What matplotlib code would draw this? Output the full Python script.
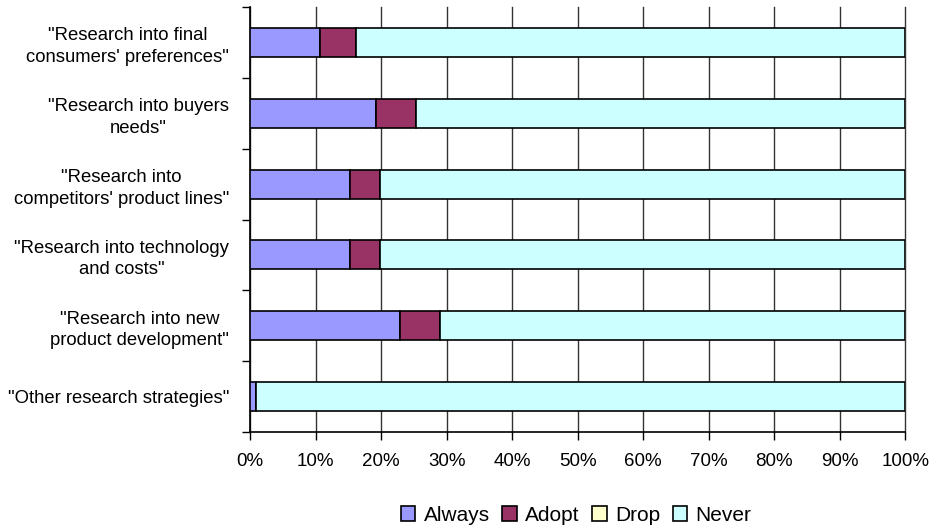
import matplotlib
matplotlib.use("Agg")
import matplotlib.pyplot as plt
import numpy as np
from matplotlib.ticker import FixedLocator, PercentFormatter

plt.rcParams['font.family'] = ['Liberation Sans', 'DejaVu Sans']

categories = [
    '"Research into final\nconsumers\' preferences"',
    '"Research into buyers\nneeds"',
    '"Research into\ncompetitors\' product lines"',
    '"Research into technology\nand costs"',
    '"Research into new\nproduct development"',
    '"Other research strategies"',
]
always = [10.6, 19.2, 15.2, 15.2, 22.9, 0.9]
adopt = [5.6, 6.1, 4.6, 4.6, 6.1, 0.0]
drop = [0.0, 0.0, 0.0, 0.0, 0.0, 0.0]
never = [100 - a - b - c for a, b, c in zip(always, adopt, drop)]

series = [("Always", always, "#9999FF"),
          ("Adopt", adopt, "#993366"),
          ("Drop", drop, "#FFFFCC"),
          ("Never", never, "#CCFFFF")]

fig = plt.figure(figsize=(9.32, 5.31), dpi=100)
ax = fig.add_axes([0.2683, 0.1864, 0.7031, 0.8004])

y = np.arange(len(categories))
left = np.zeros(len(categories))
handles = []
for name, vals, col in series:
    h = ax.barh(y, vals, left=left, height=0.41, color=col, edgecolor='black',
                linewidth=1.2, label=name, zorder=3)
    handles.append(h)
    left = left + np.array(vals)

ax.set_xlim(0, 100)
ax.set_ylim(len(categories) - 0.5, -0.5)
ax.set_xticks(np.arange(0, 101, 10))
ax.xaxis.set_major_formatter(PercentFormatter(decimals=0))
ax.set_yticks(y)
ax.set_yticklabels(categories, multialignment='center', fontsize=13.3,
                   linespacing=1.35)
ax.yaxis.set_minor_locator(FixedLocator(np.arange(-0.5, len(categories), 1)))
ax.tick_params(axis='y', which='major', length=0, pad=15)
ax.tick_params(axis='y', which='minor', length=6, width=1, direction='out')
ax.tick_params(axis='x', which='major', length=6, width=1, direction='out',
               labelsize=13.5, pad=9)
ax.grid(axis='x', color='#333333', linewidth=1, zorder=0)
for gl in ax.get_xgridlines():
    gl.set_clip_on(False)
for s in ['top', 'right']:
    ax.spines[s].set_visible(False)
for s in ['left', 'bottom']:
    ax.spines[s].set_linewidth(1.2)
    ax.spines[s].set_color('black')

leg = fig.legend(handles=handles, loc='center', bbox_to_anchor=(0.618, 0.03),
                 ncol=4, frameon=False, fontsize=15, handlelength=0.7,
                 handleheight=0.7, handletextpad=0.4, columnspacing=0.6)

fig.savefig("out.png", dpi=100)
